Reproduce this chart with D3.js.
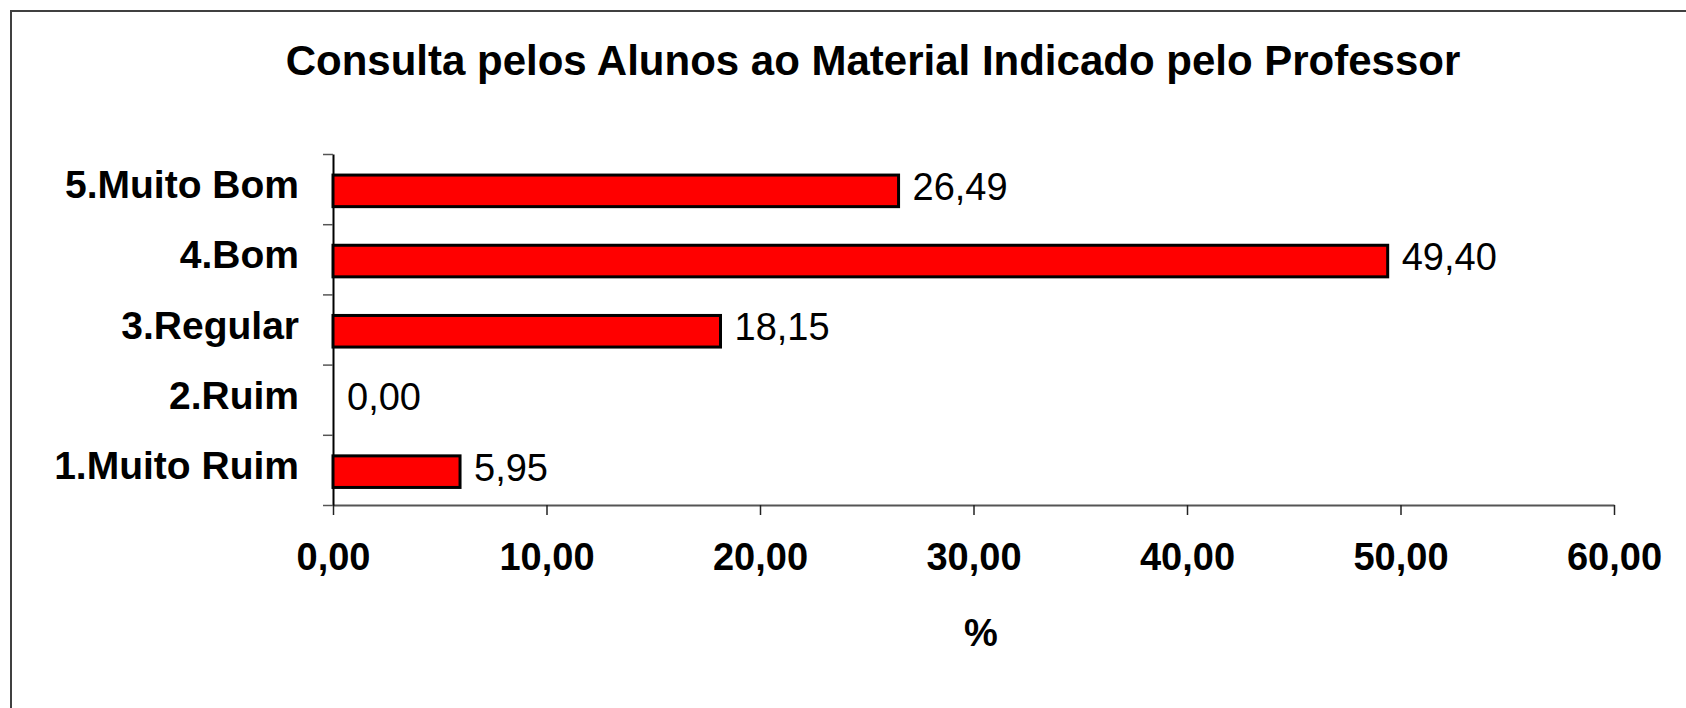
<!DOCTYPE html>
<html>
<head>
<meta charset="utf-8">
<script src="https://cdn.jsdelivr.net/npm/d3@7"></script>
<style>
  body { margin: 0; background: #fff; }
  text { font-family: "Liberation Sans", Arial, sans-serif; fill: #000; }
</style>
</head>
<body>
<div id="chart"></div>
<script>
var categories = ["5.Muito Bom", "4.Bom", "3.Regular", "2.Ruim", "1.Muito Ruim"];
var values = [26.49, 49.40, 18.15, 0.00, 5.95];
var xTicks = [0, 10, 20, 30, 40, 50, 60];
var chartTitle = "Consulta pelos Alunos ao Material Indicado pelo Professor";
var xTitle = "%";

function barChart() {
    var width = 1686;
    var height = 708;
    var left = 333, right = 1614, top = 154, bottom = 505;

    var fmt = function(v) { return d3.format(".2f")(v).replace(".", ","); };

    var svg = d3.select('#chart')
      .append('svg')
      .attr('width', width)
      .attr('height', height);

    // outer frame, runs off the right and bottom edges
    svg.append('rect')
      .attr('x', 11).attr('y', 11)
      .attr('width', width + 20).attr('height', height + 20)
      .attr('fill', '#fff')
      .attr('stroke', '#404040')
      .attr('stroke-width', 2);

    svg.append('text')
      .attr('x', 873).attr('y', 75)
      .attr('text-anchor', 'middle')
      .style('font-size', '42px')
      .style('font-weight', 'bold')
      .text(chartTitle);

    var x = d3.scaleLinear().domain([0, 60]).range([left, right]);
    var y = d3.scaleBand().domain(categories).range([top, bottom]).padding(0);
    var yEdge = d3.scaleLinear().domain([0, categories.length]).range([top, bottom]);

    // x axis
    var xAxis = svg.append('g')
      .attr('transform', 'translate(0,' + bottom + ')')
      .call(d3.axisBottom(x).tickValues(xTicks).tickSize(10).tickSizeOuter(0).tickFormat(fmt));
    xAxis.select('.domain').attr('stroke', '#555').attr('stroke-width', 2);
    xAxis.selectAll('.tick line').attr('stroke', '#222').attr('stroke-width', 1.5);
    xAxis.selectAll('.tick text')
      .attr('y', 38).attr('dy', '0.71em')
      .style('font-size', '38px')
      .style('font-weight', 'bold')
      .style('font-family', '"Liberation Sans", Arial, sans-serif');

    // y axis: ticks on band edges
    var yAxis = svg.append('g')
      .attr('transform', 'translate(' + left + ',0)')
      .call(d3.axisLeft(yEdge).tickValues(d3.range(categories.length + 1)).tickSize(10).tickSizeOuter(0).tickFormat(''));
    yAxis.select('.domain').attr('stroke', '#000').attr('stroke-width', 2);
    yAxis.selectAll('.tick line').attr('stroke', '#555').attr('stroke-width', 1.5);

    // category labels
    svg.selectAll('.cat')
      .data(categories)
      .enter()
      .append('text')
      .attr('class', 'cat')
      .attr('x', 299)
      .attr('y', function(d) { return y(d) + y.bandwidth() / 2 + 9; })
      .attr('text-anchor', 'end')
      .style('font-size', '39px')
      .style('font-weight', 'bold')
      .text(function(d) { return d; });

    var barTop = y.bandwidth() * 0.30;
    var barH = y.bandwidth() * 0.45;

    svg.selectAll('.bar')
      .data(values.map(function(v, i) { return {c: categories[i], v: v}; }).filter(function(d) { return d.v > 0; }))
      .enter()
      .append('rect')
      .attr('class', 'bar')
      .attr('x', x(0))
      .attr('y', function(d) { return y(d.c) + barTop; })
      .attr('width', function(d) { return x(d.v) - x(0); })
      .attr('height', barH)
      .attr('fill', '#ff0000')
      .attr('stroke', '#000')
      .attr('stroke-width', 3);

    svg.selectAll('.val')
      .data(values)
      .enter()
      .append('text')
      .attr('class', 'val')
      .attr('x', function(d) { return x(d) + 14; })
      .attr('y', function(d, i) { return y(categories[i]) + barTop + barH / 2 + 9; })
      .style('font-size', '38px')
      .text(function(d) { return fmt(d); });

    svg.append('text')
      .attr('x', 981).attr('y', 646)
      .attr('text-anchor', 'middle')
      .style('font-size', '38px')
      .style('font-weight', 'bold')
      .text(xTitle);
}

barChart();
</script>
</body>
</html>
